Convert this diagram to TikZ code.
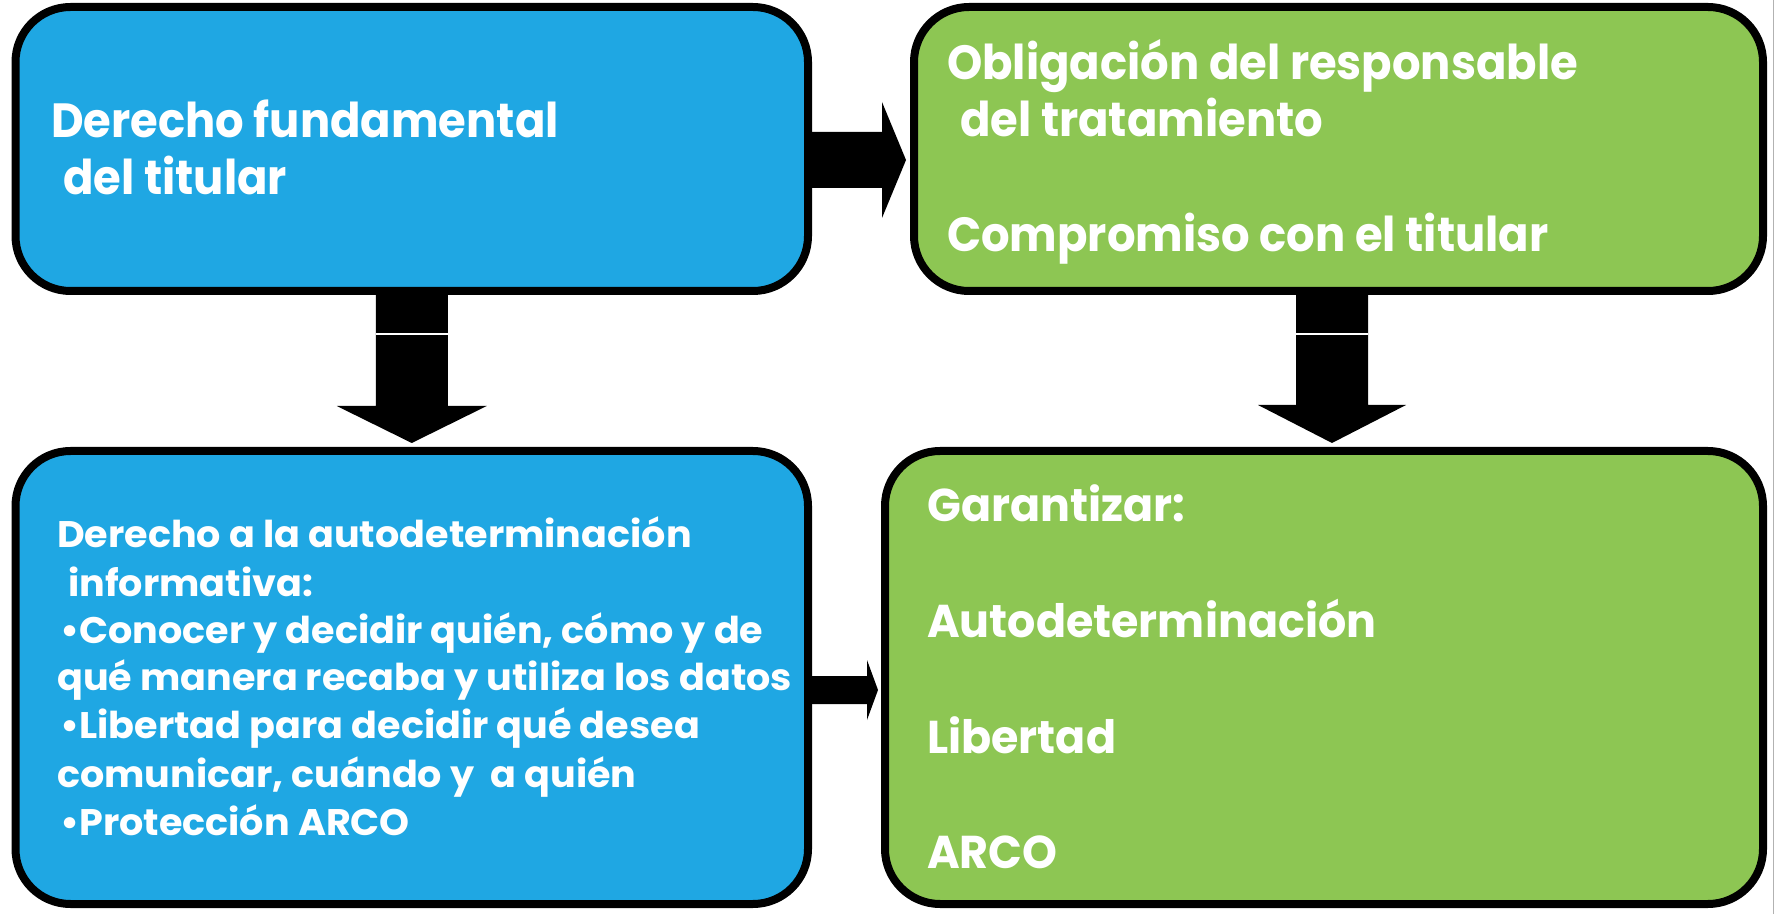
\documentclass[tikz,border=0pt]{standalone}
\usepackage{fontspec}
\setmainfont{Poppins}
\usetikzlibrary{calc}
\definecolor{boxblue}{RGB}{31,167,227}
\definecolor{boxgreen}{RGB}{141,198,83}
\begin{document}
\begin{tikzpicture}[x=1pt,y=1pt,
  panel/.style={draw=black, line width=8pt, rounded corners=55pt, inner sep=0pt},
  bluepanel/.style={panel, fill=boxblue},
  greenpanel/.style={panel, fill=boxgreen},
  txtbig/.style={anchor=base west, inner sep=0pt, text=white, font=\fontsize{48}{57}\selectfont\bfseries\addfontfeature{FakeStretch=0.935}},
  txtmid/.style={anchor=base west, inner sep=0pt, text=white, font=\fontsize{46}{57}\selectfont\bfseries\addfontfeature{FakeStretch=0.965}},
  txtsmall/.style={anchor=base west, inner sep=0pt, text=white, font=\fontsize{37}{48}\selectfont\bfseries\addfontfeature{FakeStretch=1.03}},
  blockarrow/.style={fill=black},
  splitline/.style={draw=white, line width=1.5pt}]
\useasboundingbox[fill=white] (0,0) rectangle (1775,914);
\draw[gray!60, line width=1pt] (1773,0) -- (1773,914);
% boxes
\node[bluepanel, minimum width=792.5pt, minimum height=284pt] (tl) at (411.75,765) {};
\node[greenpanel, minimum width=849pt, minimum height=284pt] (tr) at (1338.5,765) {};
\node[bluepanel, minimum width=792.5pt, minimum height=453pt] (bl) at (411.75,236.5) {};
\node[greenpanel, minimum width=878pt, minimum height=453pt] (br) at (1324,236.5) {};
% arrows
\fill[blockarrow] let \p1=(tl.east), \p2=(tr.west) in
  (\x1,782) -- (\x2-28,782) -- (\x2-28,812) -- (\x2-4,754) -- (\x2-28,696) -- (\x2-28,726) -- (\x1,726) -- cycle;
\fill[blockarrow] let \p1=(tl.south), \p2=(bl.north) in
  (\x1-36,\y1) -- (\x1-36,\y2+41) -- (\x1-75,\y2+41) -- (\x1,\y2+4) -- (\x1+75,\y2+41) -- (\x1+36,\y2+41) -- (\x1+36,\y1) -- cycle;
\draw[splitline] let \p1=(tl.south) in (\x1-36,580) -- (\x1+36,580);
\fill[blockarrow] let \p1=(tr.south), \p2=(br.north) in
  (\x1-42.5,\y1) -- (\x1-42.5,\y2+42) -- (\x1-80.5,\y2+42) -- (\x1-6.5,\y2+4) -- (\x1+67.5,\y2+42) -- (\x1+29.5,\y2+42) -- (\x1+29.5,\y1) -- cycle;
\draw[splitline] let \p1=(tr.south) in (\x1-42.5,580) -- (\x1+29.5,580);
\fill[blockarrow] let \p1=(bl.east), \p2=(br.west) in
  (\x1,238) -- (\x2-14,238) -- (\x2-14,254) -- (\x2-3,224) -- (\x2-14,194) -- (\x2-14,210) -- (\x1,210) -- cycle;
% texts
\node[txtbig] (t1a) at (51,776) {Derecho fundamental};
\node[txtbig] (t1b) at (63,719) {del titular};
\node[txtbig] (t2a) at (947,834) {Obligación del responsable};
\node[txtbig] (t2b) at (960,777) {del tratamiento};
\node[txtbig] (t2c) at (947,662) {Compromiso con el titular};
\node[txtsmall] (t3a) at (57,366) {Derecho a la autodeterminación};
\node[txtsmall] (t3b) at (68,317) {informativa:};
\node[txtsmall] (t3c) at (60,271) {•Conocer y decidir quién, cómo y de};
\node[txtsmall] (t3d) at (57,224) {qué manera recaba y utiliza los datos};
\node[txtsmall] (t3e) at (60,176) {•Libertad para decidir qué desea};
\node[txtsmall] (t3f) at (57,127) {comunicar, cuándo y \ a quién};
\node[txtsmall] (t3g) at (60,79) {•Protección ARCO};
\node[txtmid] (t4a) at (927,392) {Garantizar:};
\node[txtmid] (t4b) at (927,277) {Autodeterminación};
\node[txtmid] (t4c) at (927,161) {Libertad};
\node[txtmid] (t4d) at (927,46) {ARCO};
\end{tikzpicture}
\end{document}
